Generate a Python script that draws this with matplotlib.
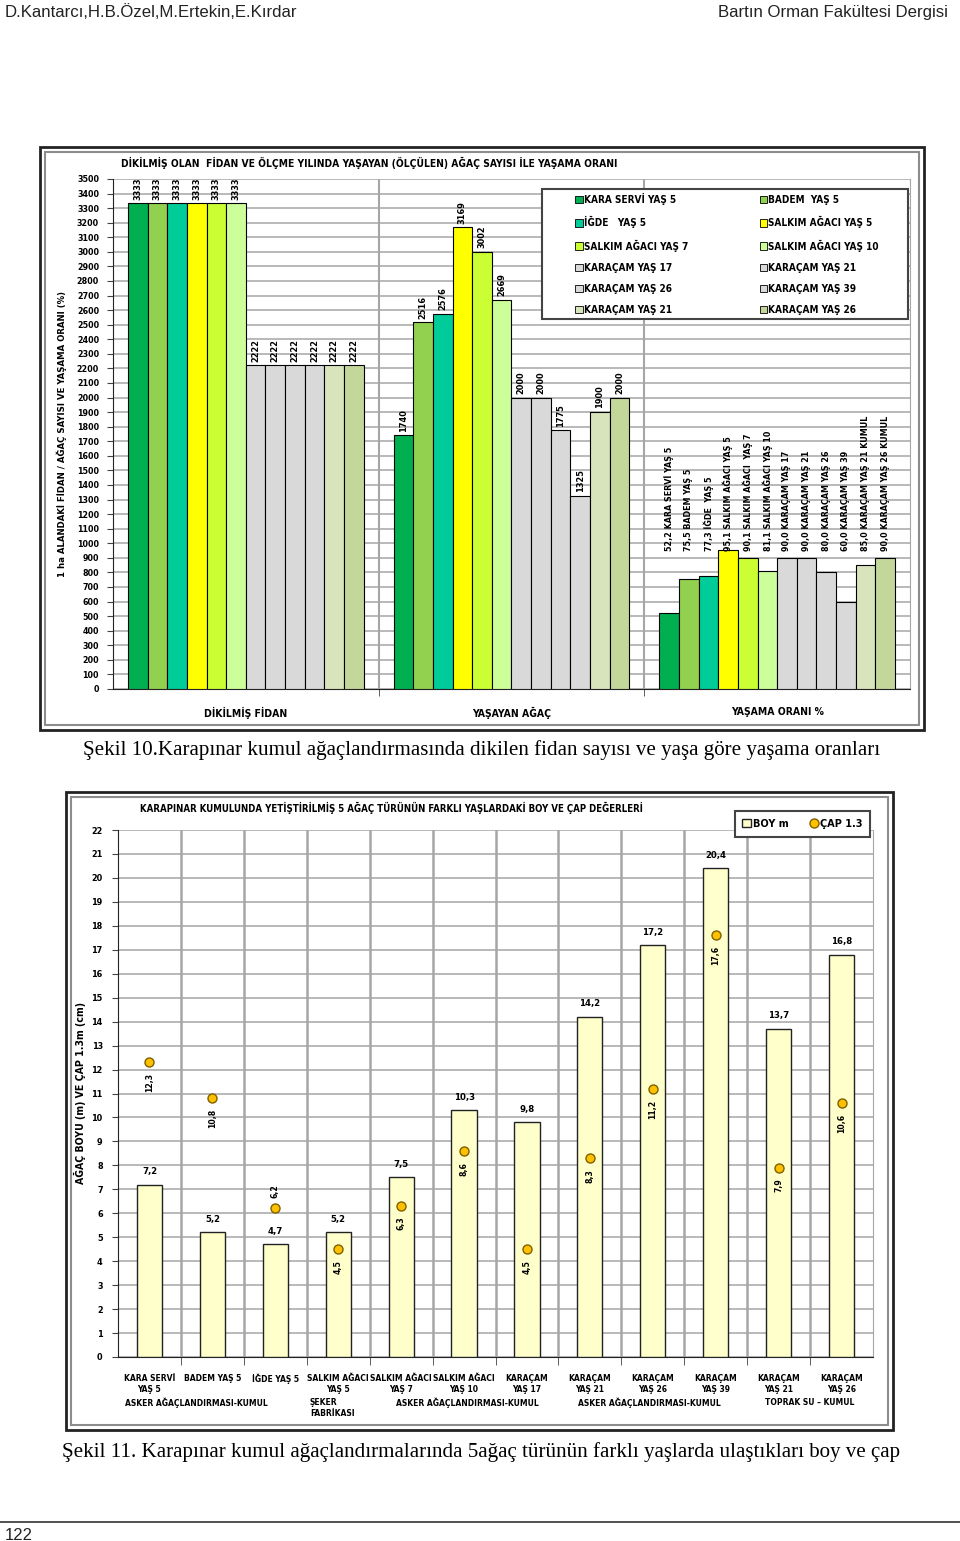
import numpy as np
import matplotlib.pyplot as plt
from matplotlib.patches import Patch, Rectangle
from matplotlib.lines import Line2D
from matplotlib.transforms import blended_transform_factory

W, H = 960, 1541

# ---- Şekil 10 verileri
seri = ["KARA SERVİ YAŞ 5", "BADEM  YAŞ 5", "İĞDE   YAŞ 5", "SALKIM AĞACI YAŞ 5",
        "SALKIM AĞACI YAŞ 7", "SALKIM AĞACI YAŞ 10", "KARAÇAM YAŞ 17", "KARAÇAM YAŞ 21",
        "KARAÇAM YAŞ 26", "KARAÇAM YAŞ 39", "KARAÇAM YAŞ 21", "KARAÇAM YAŞ 26"]
renk = ["#00B050", "#92D050", "#00CC99", "#FFFF00", "#CCFF33", "#CCFF99",
        "#D9D9D9", "#D9D9D9", "#D9D9D9", "#D9D9D9", "#D8E4BC", "#C4D79B"]
gruplar = ["DİKİLMİŞ FİDAN", "YAŞAYAN AĞAÇ", "YAŞAMA ORANI %"]
dikilen = [3333, 3333, 3333, 3333, 3333, 3333, 2222, 2222, 2222, 2222, 2222, 2222]
yasayan = [1740, 2516, 2576, 3169, 3002, 2669, 2000, 2000, 1775, 1325, 1900, 2000]
oran = [52.2, 75.5, 77.3, 95.1, 90.1, 81.1, 90.0, 90.0, 80.0, 60.0, 85.0, 90.0]
oran_etiket = ["KARA SERVİ YAŞ 5", "BADEM YAŞ 5", "İĞDE  YAŞ 5", "SALKIM AĞACI YAŞ 5",
               "SALKIM AĞACI  YAŞ 7", "SALKIM AĞACI YAŞ 10", "KARAÇAM YAŞ 17",
               "KARAÇAM YAŞ 21", "KARAÇAM YAŞ 26", "KARAÇAM YAŞ 39",
               "KARAÇAM YAŞ 21 KUMUL", "KARAÇAM YAŞ 26 KUMUL"]

# ---- Şekil 11 verileri
kategori = ["KARA SERVİ\nYAŞ 5", "BADEM YAŞ 5", "İĞDE YAŞ 5", "SALKIM AĞACI\nYAŞ 5",
            "SALKIM AĞACI\nYAŞ 7", "SALKIM AĞACI\nYAŞ 10", "KARAÇAM\nYAŞ 17",
            "KARAÇAM\nYAŞ 21", "KARAÇAM\nYAŞ 26", "KARAÇAM\nYAŞ 39",
            "KARAÇAM\nYAŞ 21", "KARAÇAM\nYAŞ 26"]
boy = [7.2, 5.2, 4.7, 5.2, 7.5, 10.3, 9.8, 14.2, 17.2, 20.4, 13.7, 16.8]
cap = [12.3, 10.8, 6.2, 4.5, 6.3, 8.6, 4.5, 8.3, 11.2, 17.6, 7.9, 10.6]
bolge = ["ASKER AĞAÇLANDIRMASI-KUMUL", "ŞEKER\nFABRİKASI", "ASKER AĞAÇLANDIRMASI-KUMUL",
         "ASKER AĞAÇLANDIRMASI-KUMUL", "TOPRAK SU – KUMUL"]
bolge_x = [0.75, 2.55, 5.05, 7.95, 10.5]

GRID = "#A6A6A6"
FNT = dict(family="DejaVu Sans", fontweight="bold", fontstretch="condensed")


def box(x, y, w, h):
    return [x / W, 1 - (y + h) / H, w / W, h / H]


def fx(x):
    return x / W


def fy(y):
    return 1 - y / H


def virgul(v):
    return f"{v:.1f}".replace(".", ",")


def kalin(labels, size):
    for t in labels:
        t.set_fontsize(size)
        t.set_fontweight("bold")
        t.set_fontstretch("condensed")


fig = plt.figure(figsize=(W / 100, H / 100), dpi=100)

# sayfa başlığı
fig.text(fx(5), fy(12), "D.Kantarcı,H.B.Özel,M.Ertekin,E.Kırdar", family="Liberation Sans",
         size=12.1, va="center", color="#222222")
fig.text(fx(948), fy(12), "Bartın Orman Fakültesi Dergisi", family="Liberation Sans",
         size=12.1, va="center", ha="right", color="#222222")

# çerçeveler
for (x0, y0, x1, y1) in [(40, 147, 924, 730), (66, 792, 893, 1430)]:
    fig.add_artist(Rectangle((fx(x0), fy(y1)), (x1 - x0) / W, (y1 - y0) / H,
                             transform=fig.transFigure, fill=False, ec="#222222", lw=2))
    fig.add_artist(Rectangle((fx(x0 + 5), fy(y1 - 5)), (x1 - x0 - 10) / W, (y1 - y0 - 10) / H,
                             transform=fig.transFigure, fill=False, ec="#8C8C8C", lw=1.5))

# ================= Şekil 10 =================
ax = fig.add_axes(box(113, 179, 797, 510))
bw = 0.074
xg = np.arange(3)
for i in range(12):
    ax.bar(xg + (i - 5.5) * bw, [dikilen[i], yasayan[i], oran[i] * 10], bw,
           color=renk[i], edgecolor="black", lw=0.8, label=seri[i], zorder=3)
    for g, v in enumerate([dikilen[i], yasayan[i]]):
        ax.text(g + (i - 5.5) * bw, v + 25, str(v), rotation=90, ha="center", va="bottom",
                size=6.6, zorder=4, **FNT)
    ax.text(2 + (i - 5.5) * bw, 945, virgul(oran[i]) + " " + oran_etiket[i], rotation=90,
            ha="center", va="bottom", size=6.4, zorder=4, **FNT)

ax.set_xlim(-0.5, 2.5)
ax.set_ylim(0, 3500)
ax.set_yticks(range(0, 3501, 100))
ax.set_xticks(xg, gruplar)
ax.set_xticks([0.5, 1.5], minor=True)
ax.tick_params(axis="x", which="major", length=0, pad=13)
ax.tick_params(axis="x", which="minor", length=5, direction="out", color="#444444")
ax.tick_params(axis="y", length=4, direction="out", pad=6, color="#444444")
kalin(ax.get_xticklabels(), 7.5)
kalin(ax.get_yticklabels(), 6.4)
ax.grid(axis="y", color=GRID, lw=1.1, zorder=0)
ax.grid(axis="x", which="minor", color=GRID, lw=1.5, zorder=0)
ax.spines["top"].set_visible(False)
ax.spines["right"].set_color(GRID)
ax.spines["left"].set_color("#222222")
ax.spines["bottom"].set_color("#222222")
ax.set_ylabel("1 ha ALANDAKİ FİDAN / AĞAÇ SAYISI VE YAŞAMA ORANI (%)", size=6.8,
              labelpad=7, **FNT)

hnd, lab = ax.get_legend_handles_labels()
sira = [0, 2, 4, 6, 8, 10, 1, 3, 5, 7, 9, 11]
leg = ax.legend([hnd[k] for k in sira], [lab[k] for k in sira], ncol=2,
                bbox_to_anchor=box(573, 191, 308, 128), bbox_transform=fig.transFigure,
                loc="upper left", mode="expand", frameon=False,
                handlelength=0.75, handleheight=0.75, handletextpad=0.15,
                labelspacing=1.12, borderpad=0.2, borderaxespad=0,
                prop=dict(size=7.2, weight="bold", stretch="condensed"))
leg.set_zorder(7)
for h in leg.legend_handles:
    h.set_linewidth(0.6)
# lejant kutusu (eksen içinde, lejantın altında çizilir)
ax.add_artist(Rectangle((fx(542), fy(319)), 366 / W, 130 / H, transform=fig.transFigure,
                        fc="white", ec="#444444", lw=1.5, zorder=6, clip_on=False))
fig.text(fx(121), fy(163), "DİKİLMİŞ OLAN  FİDAN VE ÖLÇME YILINDA YAŞAYAN (ÖLÇÜLEN) AĞAÇ SAYISI İLE YAŞAMA ORANI",
         size=7.4, va="center", **FNT)

fig.text(fx(83), fy(750), "Şekil 10.Karapınar kumul ağaçlandırmasında dikilen fidan sayısı ve yaşa göre yaşama oranları",
         family="Liberation Serif", size=15.1, va="center")

# ================= Şekil 11 =================
ax2 = fig.add_axes(box(118, 830, 755, 527))
xc = np.arange(12)
bars = ax2.bar(xc, boy, 0.4, color="#FFFFCC", edgecolor="#222222", lw=1.0, zorder=3, label="BOY m")
pts, = ax2.plot(xc, cap, "o", ms=6.5, mfc="#FFC000", mec="#7F6000", mew=1.0, ls="none", zorder=4,
                label="ÇAP 1.3")
for i in range(12):
    ax2.text(i, boy[i] + 0.35, virgul(boy[i]), ha="center", va="bottom", size=6.8, zorder=5, **FNT)
    if i == 2:
        ax2.text(i, cap[i] + 0.45, virgul(cap[i]), rotation=90, ha="center", va="bottom",
                 size=6.2, zorder=5, **FNT)
    else:
        ax2.text(i, cap[i] - 0.45, virgul(cap[i]), rotation=90, ha="center", va="top",
                 size=6.2, zorder=5, **FNT)

ax2.set_xlim(-0.5, 11.5)
ax2.set_ylim(0, 22)
ax2.set_yticks(range(0, 23))
ax2.set_xticks(xc, kategori)
ax2.set_xticks(np.arange(0.5, 11.5, 1), minor=True)
ax2.tick_params(axis="x", which="major", length=0, pad=12)
ax2.tick_params(axis="x", which="minor", length=6, direction="out", color="#444444")
ax2.tick_params(axis="y", length=4, direction="out", pad=7, color="#444444")
kalin(ax2.get_xticklabels(), 6.1)
for t in ax2.get_xticklabels():
    t.set_linespacing(1.4)
kalin(ax2.get_yticklabels(), 6.5)
ax2.grid(axis="y", color=GRID, lw=1.1, zorder=0)
ax2.grid(axis="x", which="minor", color=GRID, lw=1.8, zorder=0)
ax2.spines["top"].set_visible(False)
ax2.spines["right"].set_color(GRID)
ax2.spines["left"].set_color("#222222")
ax2.spines["bottom"].set_color("#222222")
ax2.set_ylabel("AĞAÇ BOYU (m) VE ÇAP 1.3m (cm)", size=7.6, labelpad=4, **FNT)

tr = blended_transform_factory(ax2.transData, ax2.transAxes)
for k, (txt, xp) in enumerate(zip(bolge, bolge_x)):
    ax2.text(xp, -0.077, txt, transform=tr, ha="left" if k == 1 else "center", va="top",
             size=6.1, linespacing=1.4, **FNT)

leg2 = ax2.legend([bars, pts], ["BOY m", "ÇAP 1.3"], ncol=2,
                  bbox_to_anchor=box(732, 808, 141, 32), bbox_transform=fig.transFigure,
                  loc="center", fancybox=False, framealpha=1, edgecolor="#444444",
                  handlelength=0.8, handleheight=0.8, handletextpad=0.2, columnspacing=1.9,
                  borderpad=0.7, borderaxespad=0,
                  prop=dict(size=7.8, weight="bold", stretch="condensed"))
leg2.get_frame().set_linewidth(1.5)
leg2.set_zorder(6)
fig.text(fx(140), fy(808), "KARAPINAR KUMULUNDA YETİŞTİRİLMİŞ 5 AĞAÇ TÜRÜNÜN FARKLI YAŞLARDAKİ BOY VE ÇAP DEĞERLERİ",
         size=6.9, va="center", **FNT)

fig.text(fx(62), fy(1452), "Şekil 11. Karapınar kumul ağaçlandırmalarında 5ağaç türünün farklı yaşlarda ulaştıkları boy ve çap",
         family="Liberation Serif", size=15.1, va="center")

# sayfa altı
fig.add_artist(Line2D([0, 1], [fy(1522), fy(1522)], transform=fig.transFigure, color="#333333", lw=1.2))
fig.text(fx(5), fy(1535), "122", family="Liberation Sans", size=12, va="center", color="#222222")

fig.savefig("out.png", dpi=100)
